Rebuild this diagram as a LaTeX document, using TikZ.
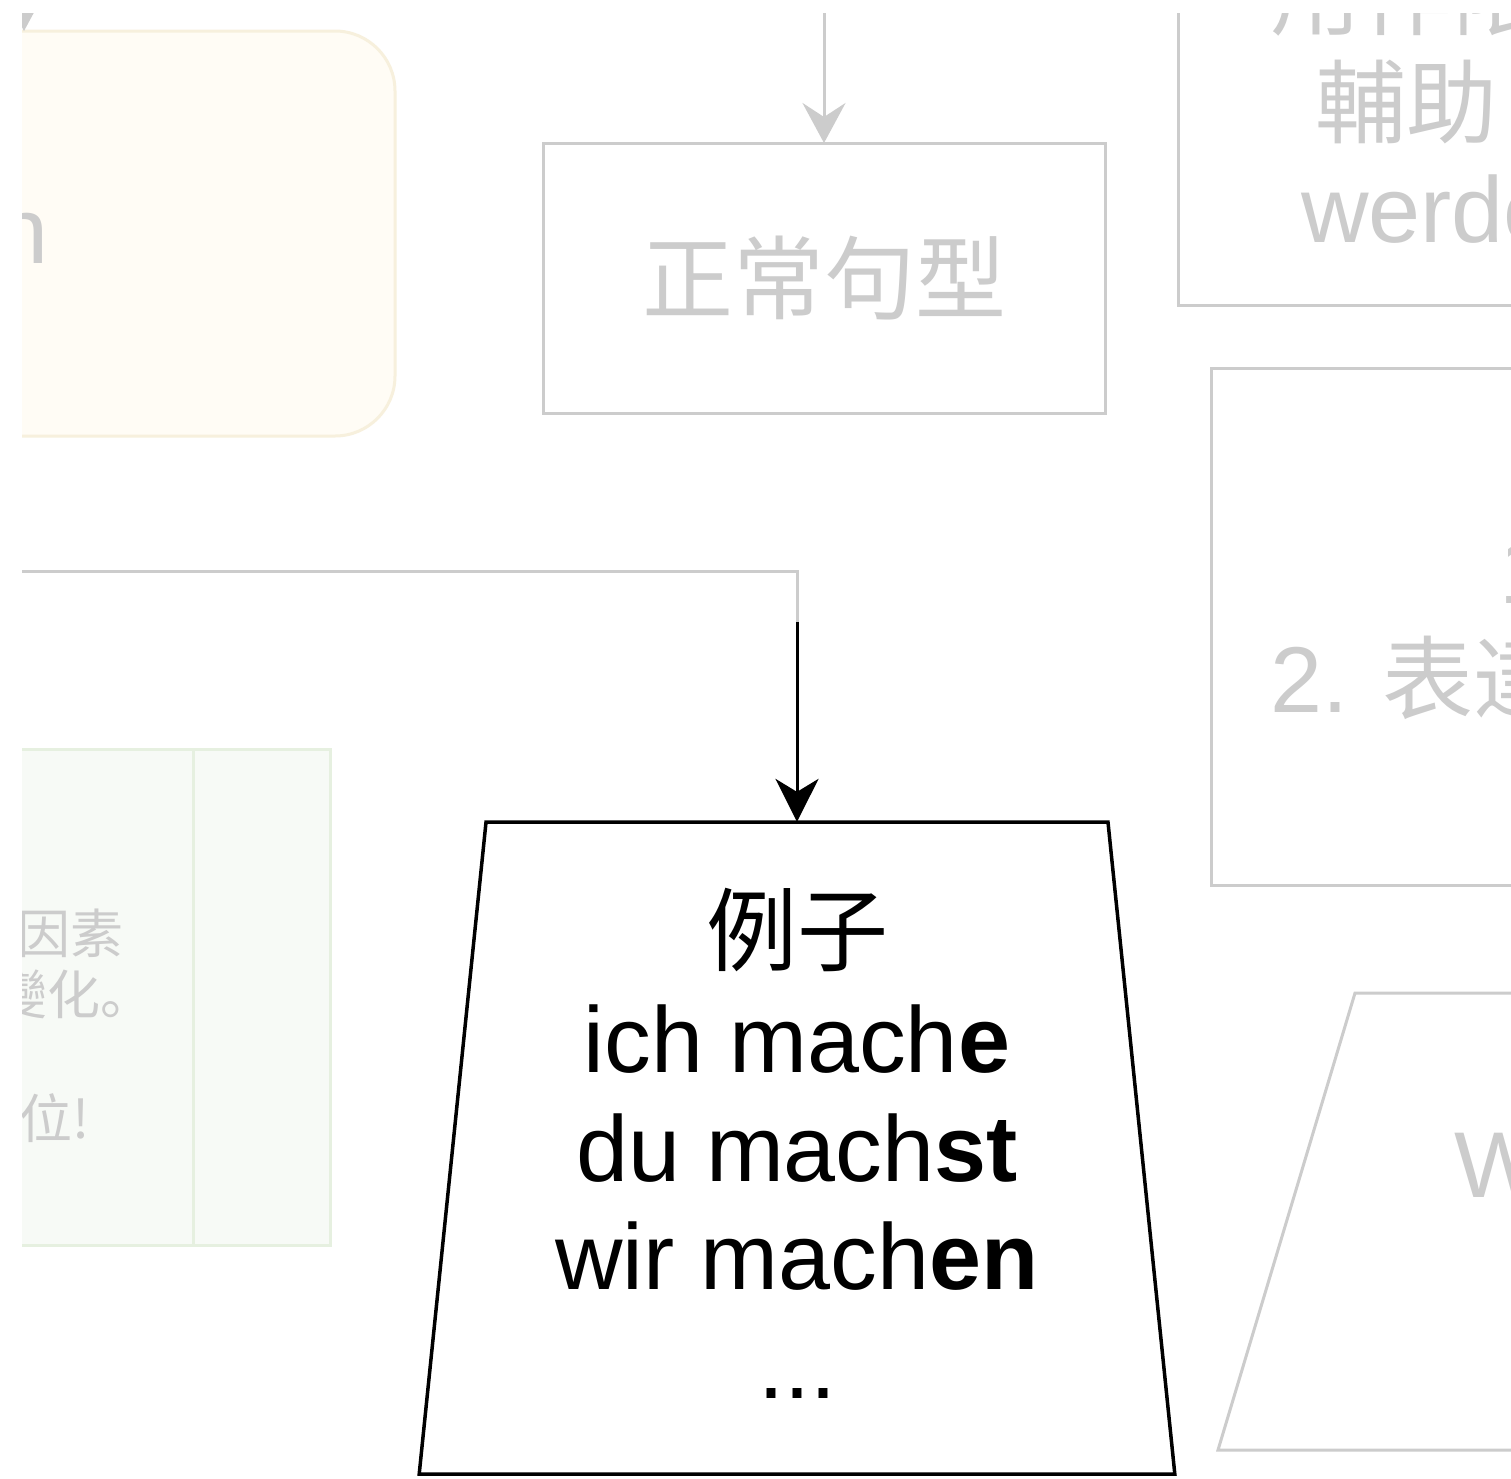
\documentclass[tikz,border=0pt]{standalone}
\usepackage{fontspec}
\setmainfont{Liberation Sans}
\newfontfamily\cjk{Noto Sans CJK SC}
\usetikzlibrary{arrows.meta,shapes.geometric}
\definecolor{faint}{RGB}{204,204,204}
\definecolor{notefill}{RGB}{255,252,245}
\definecolor{notedraw}{RGB}{247,240,221}
\definecolor{cellfill}{RGB}{247,250,246}
\definecolor{celldraw}{RGB}{230,240,224}
\newcommand{\bigtext}{\fontsize{93.5}{108.5}\selectfont}
\newcommand{\bigcjk}{\cjk\fontsize{91}{108.5}\selectfont}
\newcommand{\smalltext}{\cjk\fontsize{53}{64}\selectfont}
\begin{document}
\begin{tikzpicture}[x=1pt,y=-1pt,
		fadebox/.style={draw=faint,line width=3pt,inner sep=0pt,outer sep=0pt},
		fadetext/.style={text=faint,font=\bigtext,inner sep=0pt},
		fadearrow/.style={draw=faint,line width=3pt,-{Stealth[length=40pt,width=43pt,inset=14pt]}}]
	\fill[white] (0,0) rectangle (1511,1478);
	\useasboundingbox (0,0) rectangle (1511,1478);
	\begin{scope}
		\clip (22,13) rectangle (1511,1478);
		\node[fadebox,draw=notedraw,fill=notefill,rounded corners=60pt,minimum width=595pt,minimum height=405pt] (note) at (97.5,233.5) {};
		\node[fadetext,anchor=base east] (notetail) at (49,263) {n};
		\coordinate (notein) at (24,-60);
		\draw[fadearrow] (notein) -- (notein |- note.north);
		\node[fadebox,text=faint,font=\bigcjk,minimum width=562pt,minimum height=270pt] (normal) at (824,278) {正常句型};
		\coordinate (normalin) at (824,-20);
		\draw[fadearrow] (normalin) -- (normal.north);
		\node[fadebox,minimum width=522pt,minimum height=405pt] (werden) at (1439,102.5) {};
		\node[fadetext,font=\bigcjk,anchor=base west] (werdenA) at (1270,28) {用作限};
		\node[fadetext,font=\bigcjk,anchor=base west] (werdenB) at (1315,136) {輔助};
		\node[fadetext,anchor=base west] (werdenC) at (1301,242) {werde};
		\node[fadebox,minimum width=489pt,minimum height=517pt] (usage) at (1455.5,626.5) {};
		\node[fadetext,anchor=base west] (usageA) at (1499,603.5) {1.};
		\node[fadetext,anchor=base west] (usageB) at (1270,712) {2. {\bigcjk 表達}};
		\draw[faint,line width=3pt] (1700,993) -- (1355,993) -- (1218,1450) -- (1700,1450);
		\node[fadetext,anchor=base west] (wordW) at (1454,1197) {W};
		\node[fadebox,draw=celldraw,fill=cellfill,minimum width=630pt,minimum height=496pt] (cells) at (15,997) {};
		\draw[celldraw,line width=3pt] (193,749) -- (193,1245);
		\node[fadetext,font=\smalltext,anchor=base east] (cellA) at (124,953) {因素};
		\node[fadetext,font=\smalltext,anchor=base east] (cellB) at (154,1014) {變化。};
		\node[fadetext,font=\smalltext,anchor=base east] (cellC) at (90,1138) {位!};
		\coordinate (feed) at (-50,571);
		\coordinate (bend) at (797,622);
		\draw[faint,line width=3pt] (feed) -| (bend);
	\end{scope}
	\node[trapezium,draw,line width=3.5pt,trapezium stretches=true,trapezium left angle=84.3,trapezium right angle=84.3,minimum width=760pt,minimum height=652pt,inner sep=0pt,outer sep=0pt,align=center,font=\bigtext] (example) at (797,1148) {{\bigcjk 例子}\\ich mach\textbf{e}\\du mach\textbf{st}\\wir mach\textbf{en}\\...\rule[-10pt]{0pt}{0pt}};
	\draw[line width=3pt,-{Stealth[length=43pt,width=43pt,inset=13pt]}] (bend) -- (example.north);
\end{tikzpicture}
\end{document}
